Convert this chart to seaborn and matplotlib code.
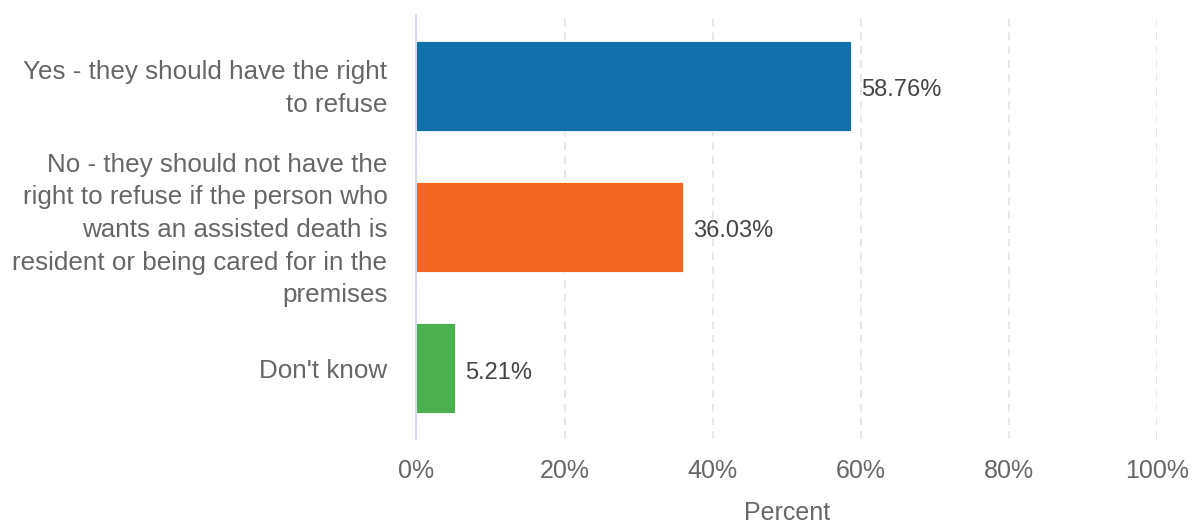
import matplotlib
matplotlib.use("Agg")
import matplotlib.pyplot as plt
import matplotlib.transforms as mtransforms
import seaborn as sns
import pandas as pd
from matplotlib.ticker import FuncFormatter

categories = [
    "Yes - they should have the right\nto refuse",
    "No - they should not have the\nright to refuse if the person who\nwants an assisted death is\nresident or being cared for in the\npremises",
    "Don't know",
]
values = [58.76, 36.03, 5.21]
colors = ["#1170aa", "#f26522", "#4caf50"]
xticks = [0, 20, 40, 60, 80, 100]

sns.set_theme(style="white")
plt.rcParams["font.family"] = ["Liberation Sans", "DejaVu Sans"]

df = pd.DataFrame({"category": categories, "value": values})

fig = plt.figure(figsize=(11.95, 5.24), dpi=100)
ax = fig.add_axes([0.3485, 0.162, 0.6195, 0.8094])

sns.barplot(data=df, y="category", x="value", hue="category", palette=colors,
            orient="h", width=0.637, legend=False, ax=ax, saturation=1,
            edgecolor="white", linewidth=0.6)

ax.set_xlim(0, 100)
ax.set_ylim(2.5, -0.5)
ax.set_xticks(xticks)
ax.xaxis.set_major_formatter(FuncFormatter(lambda v, p: f"{int(v)}%"))
ax.grid(axis="x", color="#e0e0e0", linestyle=(0, (5, 4)), linewidth=1.1)
ax.set_axisbelow(True)
for s in ["top", "right", "bottom"]:
    ax.spines[s].set_visible(False)
ax.spines["left"].set_color("#ccd6eb")
ax.spines["left"].set_linewidth(1.2)

ax.tick_params(axis="x", length=0, pad=14, labelsize=18, labelcolor="#666666")
ax.tick_params(axis="y", length=0)
ax.set_yticklabels([])

# category labels drawn with custom line spacing
trans = mtransforms.blended_transform_factory(ax.transAxes, ax.transData)
offset = mtransforms.ScaledTranslation(-29 / 100, -3 / 100, fig.dpi_scale_trans)
for i, cat in enumerate(categories):
    ax.text(0, i, cat, transform=trans + offset, ha="right", va="center",
            multialignment="right", fontsize=18.7, color="#666666", linespacing=1.45)

ax.set_ylabel("")
ax.set_xlabel("Percent", fontsize=18, color="#666666", labelpad=13)

for i, v in enumerate(values):
    ax.annotate(f"{v:.2f}%", xy=(v, i), xytext=(7, -3), textcoords="offset points",
                va="center", ha="left", fontsize=17, color="#444444")

fig.savefig("out.png", dpi=100)
